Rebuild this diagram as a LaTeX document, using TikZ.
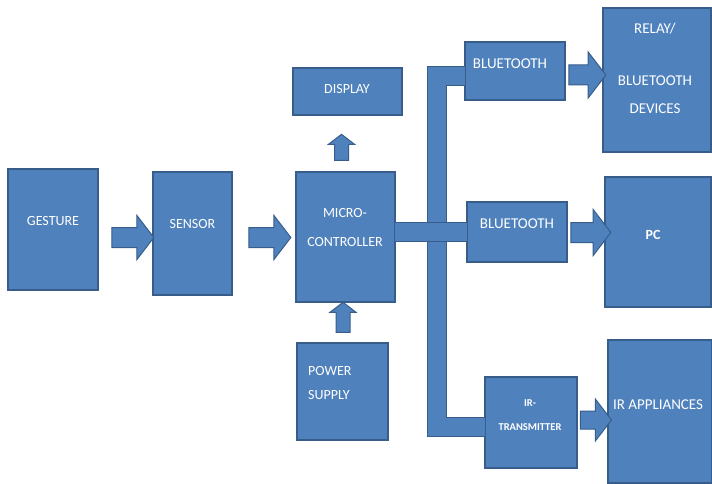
\documentclass[tikz,border=0pt]{standalone}
\usepackage{fontspec}
\setmainfont{Carlito}
\usetikzlibrary{shapes.arrows,calc}
\definecolor{boxblue}{HTML}{4F81BD}
\definecolor{boxedge}{HTML}{385D8A}
\tikzset{
  block/.style={draw=boxedge, fill=boxblue, line width=1.2pt, inner sep=0pt, outer sep=0pt},
  lbl/.style={text=white, inner sep=0pt, font=\fontsize{14}{20}\selectfont},
  fatarrow/.style={single arrow, draw=boxedge, fill=boxblue, line width=1pt, inner sep=9.5pt,
    single arrow head extend=12pt, single arrow tip angle=105, outer sep=0pt},
  uparrow/.style={fatarrow, inner sep=6.5pt, single arrow head extend=6pt, shape border rotate=90},
  bus/.style={draw=boxedge, line width=1pt, double=boxblue, double distance=18pt, line join=miter}
}
\begin{document}
\begin{tikzpicture}[x=1pt, y=-1pt]
  \useasboundingbox (0,0) rectangle (712,484);
  % blocks
  \node[block, minimum width=90, minimum height=121] (gesture) at (53,229.5) {};
  \node[block, minimum width=79, minimum height=123] (sensor) at (192.5,233.5) {};
  \node[block, minimum width=99, minimum height=130] (micro) at (345.5,237) {};
  \node[block, minimum width=109, minimum height=47] (display) at (347.5,91.5) {};
  \node[block, minimum width=91, minimum height=97] (power) at (342.5,391.5) {};
  \node[block, minimum width=100, minimum height=58] (bt1) at (515,71) {};
  \node[block, minimum width=100, minimum height=60] (bt2) at (517,232) {};
  \node[block, minimum width=92, minimum height=91] (irtx) at (531,422.5) {};
  \node[block, minimum width=108, minimum height=144] (relay) at (657,80) {};
  \node[block, minimum width=106, minimum height=130] (pc) at (658,242) {};
  \node[block, minimum width=104, minimum height=143] (irapp) at (660,411.5) {};

  % bus from the controller
  \coordinate (bustop) at (436.5,76);
  \coordinate (busbot) at (436.5,427);
  \draw[bus] ($(bt1.west)+(0,5)$) -- (bustop) -- (busbot) -- (irtx.west |- busbot);
  \draw[bus] (micro.east |- bt2.west) -- (bt2.west);

  % block arrows
  \node[fatarrow, minimum height=42] (arr1) at (129,237.5) {};
  \node[fatarrow, minimum height=42] (arr2) at (266,237.5) {};
  \node[fatarrow, minimum height=37, single arrow head extend=13pt] (arr3) at (583.5,75) {};
  \node[fatarrow, minimum height=40, single arrow head extend=13pt] (arr4) at (587,232.5) {};
  \node[fatarrow, minimum height=31, inner sep=8.5pt] (arr5) at (592.5,420) {};
  \node[uparrow, minimum height=26] (up1) at (341.5,150) {};
  \node[uparrow, minimum height=30] (up2) at (343,320) {};

  % texts
  \node[lbl] (gesture-lbl) at (53,221) {GESTURE};
  \node[lbl] (sensor-lbl) at (192.5,224) {SENSOR};
  \node[lbl, align=center, font=\fontsize{14}{29}\selectfont] (micro-lbl) at (345,227.5) {MICRO-\\CONTROLLER};
  \node[lbl] (display-lbl) at (347,89) {DISPLAY};
  \node[lbl, align=left, anchor=west, font=\fontsize{14}{24}\selectfont] (power-lbl) at (308,383.5) {POWER\\SUPPLY};
  \node[lbl, font=\fontsize{15}{20}\selectfont] (bt1-lbl) at (510,64) {BLUETOOTH};
  \node[lbl, font=\fontsize{15}{20}\selectfont] (bt2-lbl) at (517,224) {BLUETOOTH};
  \node[lbl, align=center, font=\fontsize{15}{28}\selectfont] (relay-lbl) at (655,68) {RELAY/\\[24pt]BLUETOOTH\\DEVICES};
  \node[lbl, font=\fontsize{14}{20}\selectfont\bfseries] (pc-lbl) at (653,235) {PC};
  \node[lbl, align=center, font=\fontsize{10.5}{24}\selectfont\bfseries] (irtx-lbl) at (530,415) {IR-\\TRANSMITTER};
  \node[lbl, font=\fontsize{15}{20}\selectfont] (irapp-lbl) at (658,405) {IR APPLIANCES};
\end{tikzpicture}
\end{document}
